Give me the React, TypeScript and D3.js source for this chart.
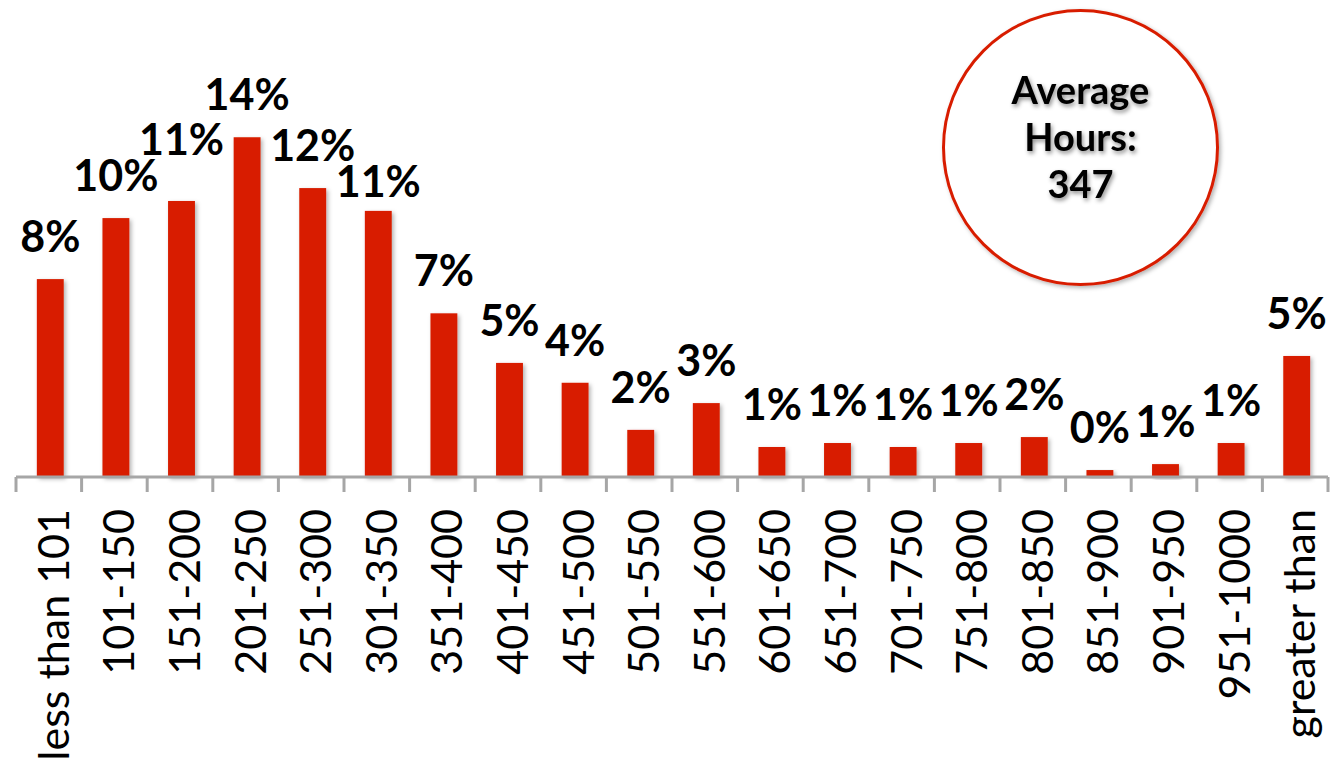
import React from 'react';
import * as d3 from 'd3';

const width = 1335;
const height = 764;
const margin = {top: 10, right: 7, bottom: 287, left: 16};
const red = '#d81f00';
const axisGray = '#a6a6a6';
const font = 'Lato, "Open Sans", sans-serif';
const labelSize = 43;

// hour ranges (x categories)
const categories = [
  'less than 101', '101-150', '151-200', '201-250', '251-300', '301-350',
  '351-400', '401-450', '451-500', '501-550', '551-600', '601-650',
  '651-700', '701-750', '751-800', '801-850', '851-900', '901-950',
  '951-1000', 'greater than',
];
// share of respondents
const shares = [
  0.0798, 0.1044, 0.1113, 0.137, 0.1165, 0.1073, 0.066, 0.046, 0.038, 0.019,
  0.0298, 0.0121, 0.0137, 0.0121, 0.0137, 0.0161, 0.0028, 0.0052, 0.0137, 0.0488,
];
const averageLines = ['Average', 'Hours:', '347'];

const yMax = 0.16;
const y0 = height - margin.bottom;

// rough width of a bold label like "14%"
const labelWidth = (s: string) => labelSize * (0.58 * (s.length - 1) + 0.72);

const App = () => {
  const slot = d3.scaleBand<string>()
    .domain(categories)
    .range([margin.left, width - margin.right])
    .padding(0);
  const step = slot.step();
  const barWidth = step * 0.41;
  const yScale = d3.scaleLinear().domain([0, yMax]).range([y0, y0 - yMax * 2480]);
  const pct = d3.format('.0%');

  const tickXs = categories.map(c => slot(c) as number).concat([slot.range()[1]]);
  const centerOf = (c: string) => (slot(c) as number) + step / 2 + 1.5;

  // value labels sit above the bars; neighbours that collide get moved apart
  const labels = categories.map((c, i) => {
    const text = pct(shares[i]);
    const top = yScale(shares[i]);
    return {text, x: centerOf(c), y: top - 27, top, w: labelWidth(text)};
  });
  const capGap = 36;
  for (let pass = 0; pass < 2; pass++) {
    for (let i = 0; i < labels.length - 1; i++) {
      const a = labels[i];
      const b = labels[i + 1];
      const hOverlap = (a.w + b.w) / 2 + 2 - (b.x - a.x);
      if (hOverlap <= 0 || Math.abs(a.y - b.y) >= capGap) continue;
      const [hi, lo] = a.top < b.top ? [a, b] : [b, a];
      if (hi.y + capGap <= lo.top - 12) lo.y = hi.y + capGap;
      else hi.y = lo.y - capGap;
    }
  }

  return (
    <svg width={width} height={height} style={{position: 'absolute', left: 0, top: 0, background: '#fff'}}>
      <defs>
        <filter id="barShadow" x="-30%" y="-10%" width="160%" height="130%">
          <feDropShadow dx="2" dy="2" stdDeviation="2" floodColor="#000" floodOpacity="0.3" />
        </filter>
        <filter id="textShadow" x="-20%" y="-30%" width="140%" height="160%">
          <feDropShadow dx="1.5" dy="2.5" stdDeviation="2" floodColor="#000" floodOpacity="0.45" />
        </filter>
      </defs>

      {categories.map((c, i) => {
        const cx = centerOf(c);
        const top = yScale(shares[i]);
        return (
          <rect key={c} x={cx - barWidth / 2} y={top} width={barWidth} height={y0 - top}
            fill={red} filter="url(#barShadow)" />
        );
      })}

      {labels.map((l, i) => (
        <text key={categories[i]} x={l.x} y={l.y} textAnchor="middle"
          fontFamily={font} fontWeight="bold" fontSize={labelSize} fill="#000">
          {l.text}
        </text>
      ))}

      <g>
        <line x1={slot.range()[0]} x2={slot.range()[1]} y1={y0} y2={y0} stroke={axisGray} strokeWidth={3} />
        {tickXs.map((x, i) => (
          <line key={i} x1={x} x2={x} y1={y0} y2={y0 + 15} stroke={axisGray} strokeWidth={3} />
        ))}
        {categories.map(c => {
          const cx = (slot(c) as number) + step / 2;
          return (
            <text key={c} transform={`translate(${cx}, ${y0 + 32}) rotate(-90)`} dy={20}
              textAnchor="end" fontFamily={font} fontSize={43} fill="#000">
              {c}
            </text>
          );
        })}
      </g>

      <g transform="translate(1080.5, 147.5)">
        <circle r={137} fill="#fff" stroke={red} strokeWidth={3} filter="url(#barShadow)" />
        {averageLines.map((t, i) => (
          <text key={t} y={-44 + i * 47} textAnchor="middle" fontFamily={font}
            fontWeight="bold" fontSize={38} fill="#000" filter="url(#textShadow)">
            {t}
          </text>
        ))}
      </g>
    </svg>
  );
};

export default App;
